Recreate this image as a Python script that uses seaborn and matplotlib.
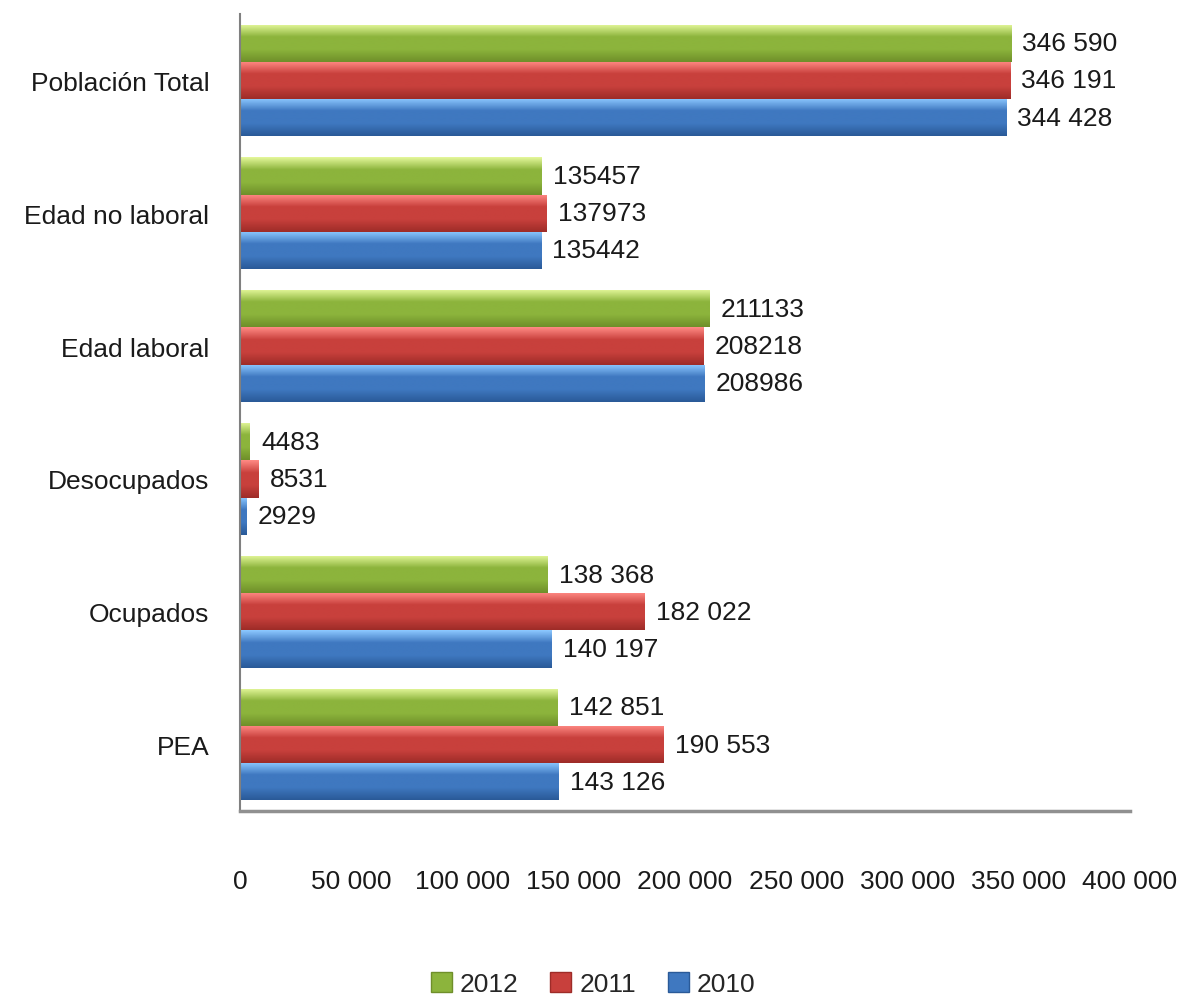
import numpy as np
import pandas as pd
import matplotlib
matplotlib.use("Agg")
import matplotlib.pyplot as plt
import seaborn as sns
from matplotlib.colors import LinearSegmentedColormap
from matplotlib.patches import Patch

categories = ["Población Total", "Edad no laboral", "Edad laboral", "Desocupados", "Ocupados", "PEA"]
years = ["2012", "2011", "2010"]
v2012 = [346590, 135457, 211133, 4483, 138368, 142851]
v2011 = [346191, 137973, 208218, 8531, 182022, 190553]
v2010 = [344428, 135442, 208986, 2929, 140197, 143126]
lab2012 = ["346 590", "135457", "211133", "4483", "138 368", "142 851"]
lab2011 = ["346 191", "137973", "208218", "8531", "182 022", "190 553"]
lab2010 = ["344 428", "135442", "208986", "2929", "140 197", "143 126"]
xticks = [0, 50000, 100000, 150000, 200000, 250000, 300000, 350000, 400000]
xticklabels = ["0", "50 000", "100 000", "150 000", "200 000", "250 000", "300 000", "350 000", "400 000"]

rows = []
for y, vals in zip(years, [v2012, v2011, v2010]):
    for c, v in zip(categories, vals):
        rows.append({"cat": c, "year": y, "value": v})
df = pd.DataFrame(rows)

sns.set_style("white")
plt.rcParams["font.family"] = ["Liberation Sans", "DejaVu Sans"]

base = {"2012": "#8cb43c", "2011": "#c8403c", "2010": "#3f78c0"}
light = {"2012": "#e4f79a", "2011": "#ff8a84", "2010": "#8cc8ff"}
dark = {"2012": "#6f8f2a", "2011": "#9e2c28", "2010": "#2a5a98"}

fig = plt.figure(figsize=(11.86, 10.03), dpi=100)
ax = fig.add_axes([240/1186, 1 - 812/1003, (1130-240)/1186, (812-15)/1003])

sns.barplot(data=df, y="cat", x="value", hue="year", hue_order=years, order=categories,
            palette=base, orient="h", width=0.84, ax=ax, legend=False, saturation=1)

labels = {"2012": lab2012, "2011": lab2011, "2010": lab2010}
for cont, y in zip(ax.containers, years):
    cmap = LinearSegmentedColormap.from_list("g", [light[y], base[y], base[y], dark[y]])
    grad = np.linspace(0, 1, 64).reshape(-1, 1)
    for p in cont.patches:
        x0, y0, w, h = p.get_x(), p.get_y(), p.get_width(), p.get_height()
        im = ax.imshow(grad, cmap=cmap, aspect="auto", extent=[x0, x0 + w, y0 + h, y0],
                       zorder=2, interpolation="bilinear")
        im.set_clip_path(p)
        p.set_facecolor("none")
        p.set_edgecolor("none")
    ax.bar_label(cont, labels=labels[y], padding=8, fontsize=19, color="#1a1a1a")

ax.set_xlim(0, 400000)
ax.set_ylim(len(categories) - 0.5, -0.5)
ax.set_xticks(xticks)
ax.set_xticklabels(xticklabels, fontsize=19, color="#1a1a1a")
ax.tick_params(axis="x", length=0, pad=42)
ax.tick_params(axis="y", length=0, pad=22, labelsize=19, labelcolor="#1a1a1a")
ax.set_xlabel("")
ax.set_ylabel("")
for s in ["top", "right"]:
    ax.spines[s].set_visible(False)
ax.spines["left"].set_color("#808080")
ax.spines["left"].set_linewidth(1.5)
ax.spines["bottom"].set_color("#909090")
ax.spines["bottom"].set_linewidth(2.5)

handles = [Patch(facecolor=base[y], edgecolor=dark[y], label=y) for y in years]
fig.legend(handles=handles, loc="center", bbox_to_anchor=(0.5, 1 - 985/1003), ncol=3,
           frameon=False, fontsize=19, handlelength=0.8, handleheight=0.8,
           handletextpad=0.3, columnspacing=1.2)

fig.savefig("out.png", dpi=100)
